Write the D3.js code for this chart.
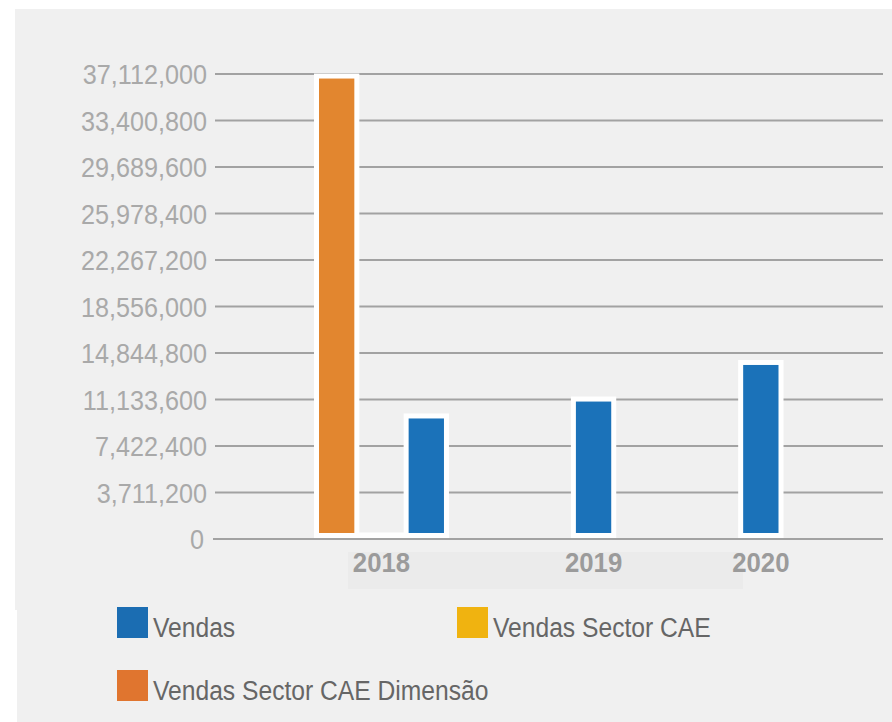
<!DOCTYPE html>
<html>
<head>
<meta charset="utf-8">
<script src="https://cdn.jsdelivr.net/npm/d3@7"></script>
<style>
  body { margin: 0; background: #fff; }
  svg { display: block; font-family: "Liberation Sans", Arial, sans-serif; }
</style>
</head>
<body>
<div id="chart"></div>
<script>
const width = 892;
const height = 722;

// data
const years = ["2018", "2019", "2020"];
const seriesNames = ["Vendas Sector CAE Dimensão", "Vendas Sector CAE", "Vendas"];
const dimensao = [36670000, null, null];
const sectorCAE = [0, null, null];
const vendas = [9540000, 10890000, 13810000];
const yTicks = [0, 3711200, 7422400, 11133600, 14844800, 18556000, 22267200, 25978400, 29689600, 33400800, 37112000];
const legendItems = ["Vendas", "Vendas Sector CAE", "Vendas Sector CAE Dimensão"];

const colors = {
  "Vendas": "#1b72b9",
  "Vendas Sector CAE": "#f0b310",
  "Vendas Sector CAE Dimensão": "#e2862f",
};
const legendColors = {
  "Vendas": "#1b6db2",
  "Vendas Sector CAE": "#f0b310",
  "Vendas Sector CAE Dimensão": "#e0752f",
};

const values = {
  "Vendas Sector CAE Dimensão": dimensao,
  "Vendas Sector CAE": sectorCAE,
  "Vendas": vendas,
};

const svg = d3.select("#chart").append("svg")
  .attr("width", width)
  .attr("height", height);

// grey panel
svg.append("rect").attr("x", 15).attr("y", 9).attr("width", width - 15).attr("height", 601).attr("fill", "#f0f0f0");
svg.append("rect").attr("x", 17).attr("y", 610).attr("width", width - 17).attr("height", height - 610).attr("fill", "#f0f0f0");
// slightly darker strip behind the year labels
svg.append("rect").attr("x", 348).attr("y", 552).attr("width", 395).attr("height", 37).attr("fill", "#ebebeb");

const y = d3.scaleLinear().domain([0, 37112000]).range([539, 74]);
const x0 = d3.scaleBand().domain(years).range([316.5, 781]).paddingInner(0.223).paddingOuter(0);
const x1 = d3.scaleBand().domain(seriesNames).range([0, x0.bandwidth()]).paddingInner(0.1);

const fmt = d3.format(",");

// gridlines + tick labels
const grid = svg.append("g");
grid.selectAll("line").data(yTicks).join("line")
  .attr("x1", d => d === 0 ? 213 : 215)
  .attr("x2", 883)
  .attr("y1", d => y(d))
  .attr("y2", d => y(d))
  .attr("stroke", "#a2a2a2")
  .attr("stroke-width", 2);

grid.selectAll("text").data(yTicks).join("text")
  .attr("transform", d => `translate(${d === 0 ? 204 : 207},${y(d)}) scale(0.9,1)`)
  .attr("text-anchor", "end")
  .attr("dy", "0.36em")
  .attr("font-size", 28)
  .attr("fill", "#a9a9a9")
  .text(d => fmt(d));

// bars
const barShift = 3.5;
const rows = [];
years.forEach((yr, i) => {
  seriesNames.forEach(s => {
    const v = values[s][i];
    if (v !== null) rows.push({ year: yr, series: s, value: v });
  });
});

svg.append("g").selectAll("rect").data(rows).join("rect")
  .attr("x", d => x0(d.year) + x1(d.series))
  .attr("width", x1.bandwidth())
  .attr("y", d => y(d.value) - barShift - (d.value === 0 ? 0.5 : 0))
  .attr("height", d => Math.max(y(0) - y(d.value), 0.5))
  .attr("fill", d => colors[d.series])
  .attr("stroke", "#fff")
  .attr("stroke-width", 5);

// year labels, centred over the bars that exist for that year
svg.append("g").selectAll("text").data(years).join("text")
  .attr("transform", yr => {
    const present = rows.filter(r => r.year === yr);
    const left = d3.min(present, r => x0(r.year) + x1(r.series));
    const right = d3.max(present, r => x0(r.year) + x1(r.series) + x1.bandwidth());
    return `translate(${(left + right) / 2},572) scale(0.92,1)`;
  })
  .attr("text-anchor", "middle")
  .attr("font-size", 28)
  .attr("font-weight", "bold")
  .attr("fill", "#9b9b9b")
  .text(d => d);

// legend
const legendPos = d3.scaleOrdinal().domain(legendItems).range([[117, 607], [457, 607], [117, 670]]);
const legend = svg.append("g").selectAll("g").data(legendItems).join("g")
  .attr("transform", d => `translate(${legendPos(d)[0]},${legendPos(d)[1]})`);

legend.append("rect")
  .attr("width", 31)
  .attr("height", 31)
  .attr("fill", d => legendColors[d]);

legend.append("text")
  .attr("transform", "translate(36,30) scale(0.88,1)")
  .attr("font-size", 28)
  .attr("fill", "#666")
  .text(d => d);
</script>
</body>
</html>
